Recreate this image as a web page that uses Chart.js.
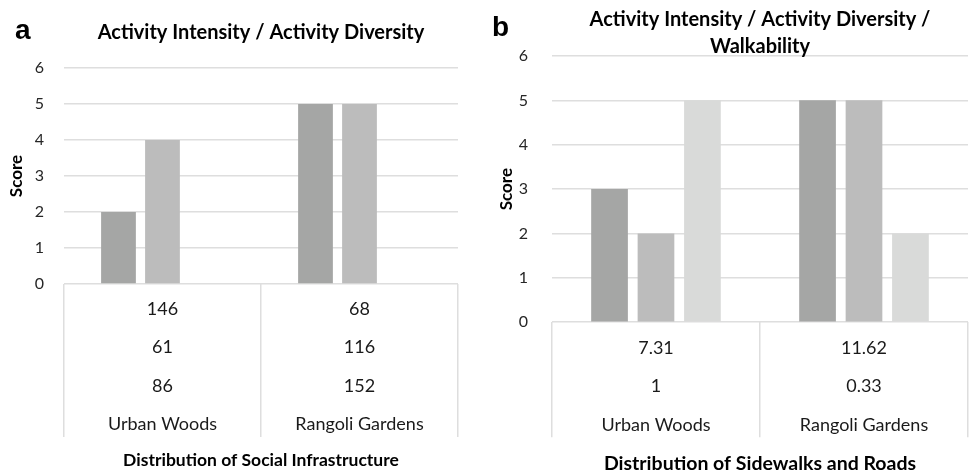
<!DOCTYPE html>
<html>
<head>
<meta charset="utf-8">
<script src="https://cdn.jsdelivr.net/npm/chart.js@4"></script>
<style>
  body { margin: 0; background: #fff; width: 970px; height: 475px; overflow: hidden; }
  .panel { position: absolute; top: 0; width: 485px; height: 475px; }
  .tag { position: absolute; font: bold 28px/28px "Liberation Sans", Arial, sans-serif; color: #000; }
</style>
</head>
<body>
<div class="panel" style="left:0"><canvas id="social-chart" width="485" height="475"></canvas></div>
<div class="panel" style="left:485px"><canvas id="roads-chart" width="485" height="475"></canvas></div>
<div class="tag" style="left:15px;top:16px">a</div>
<div class="tag" style="left:492px;top:13px">b</div>
<script>
const categories = ["Urban Woods", "Rangoli Gardens"];

// panel a
const socialIntensity = [2, 5];
const socialDiversity = [4, 5];
const socialThird = [null, null];
const socialRow1 = [146, 68];
const socialRow2 = [61, 116];
const socialRow3 = [86, 152];

// panel b
const roadIntensity = [3, 5];
const roadDiversity = [2, 5];
const roadWalkability = [5, 2];
const roadRow1 = [7.31, 11.62];
const roadRow2 = [1, 0.33];

const yTicks = [0, 1, 2, 3, 4, 5, 6];

const FONT = "Lato, 'Open Sans', sans-serif";
const GRID = "#dedede";
const barColors = ["#a5a6a5", "#bcbcbc", "#d9dad9"];

function makeDatasets(seriesList) {
  return seriesList.map((values, i) => ({
    data: values,
    backgroundColor: barColors[i],
    categoryPercentage: 0.67,
    barPercentage: 0.79,
  }));
}

// note: chart.js counts tick padding twice when fitting an axis,
// so the title paddings below soak up the difference
function makeOptions(cfg) {
  return {
    responsive: false,
    animation: false,
    layout: { padding: { left: 0, right: cfg.padRight, top: 0, bottom: 0 } },
    plugins: {
      legend: { display: false },
      tooltip: { enabled: false },
      title: {
        display: true,
        text: cfg.title,
        fullSize: false,
        color: "#000",
        font: { family: FONT, size: 20, weight: "bold", lineHeight: 1.35 },
        padding: cfg.titlePad,
      },
    },
    scales: {
      x: {
        offset: true,
        border: { display: false },
        grid: {
          offset: true,
          drawOnChartArea: false,
          drawTicks: true,
          tickLength: cfg.tableHeight,
          color: GRID,
          lineWidth: 1.5,
        },
        ticks: {
          autoSkip: false,
          maxRotation: 0,
          padding: cfg.labelPad,
          color: "#1a1a1a",
          font: { family: FONT, size: 18, lineHeight: 38.4 / 18 },
        },
        title: {
          display: true,
          text: cfg.xTitle,
          color: "#000",
          font: { family: FONT, size: cfg.xTitleSize, weight: "bold", lineHeight: 1.2 },
          padding: cfg.xTitlePad,
        },
      },
      y: {
        min: 0,
        max: 6,
        border: { display: false },
        grid: { color: GRID, lineWidth: 1.5, drawTicks: false },
        afterBuildTicks: (axis) => {
          axis.ticks = yTicks.map((v) => ({ value: v }));
        },
        ticks: {
          padding: cfg.yTickPad,
          color: "#262626",
          font: { family: FONT, size: 16 },
        },
        title: {
          display: true,
          text: "Score",
          color: "#000",
          font: { family: FONT, size: 17, weight: "bold" },
          padding: cfg.yTitlePad,
        },
      },
    },
  };
}

const socialCanvas = document.querySelector("#social-chart");
const roadsCanvas = document.querySelector("#roads-chart");

new Chart(socialCanvas.getContext("2d"), {
  type: "bar",
  data: {
    labels: categories.map((c, i) => [
      String(socialRow1[i]),
      String(socialRow2[i]),
      String(socialRow3[i]),
      c,
    ]),
    datasets: makeDatasets([socialIntensity, socialDiversity, socialThird]),
  },
  options: makeOptions({
    title: "Activity Intensity / Activity Diversity",
    titlePad: { top: 19.5, bottom: 21.5 },
    padRight: 27,
    tableHeight: 153,
    labelPad: -147,
    xTitle: "Distribution of Social Infrastructure",
    xTitleSize: 17.5,
    xTitlePad: { top: 152.9, bottom: 4.5 },
    yTickPad: 20,
    yTitlePad: { top: 6.8, bottom: -12.5 },
  }),
});

new Chart(roadsCanvas.getContext("2d"), {
  type: "bar",
  data: {
    labels: categories.map((c, i) => [String(roadRow1[i]), String(roadRow2[i]), c]),
    datasets: makeDatasets([roadIntensity, roadDiversity, roadWalkability]),
  },
  options: makeOptions({
    title: ["Activity Intensity / Activity Diversity /", "Walkability"],
    titlePad: { top: 6.5, bottom: -4.5 },
    padRight: 2,
    tableHeight: 115,
    labelPad: -108.2,
    xTitle: "Distribution of Sidewalks and Roads",
    xTitleSize: 19.5,
    xTitlePad: { top: 116.3, bottom: -0.7 },
    yTickPad: 24,
    yTitlePad: { top: 11.8, bottom: -22.5 },
  }),
});
</script>
</body>
</html>
